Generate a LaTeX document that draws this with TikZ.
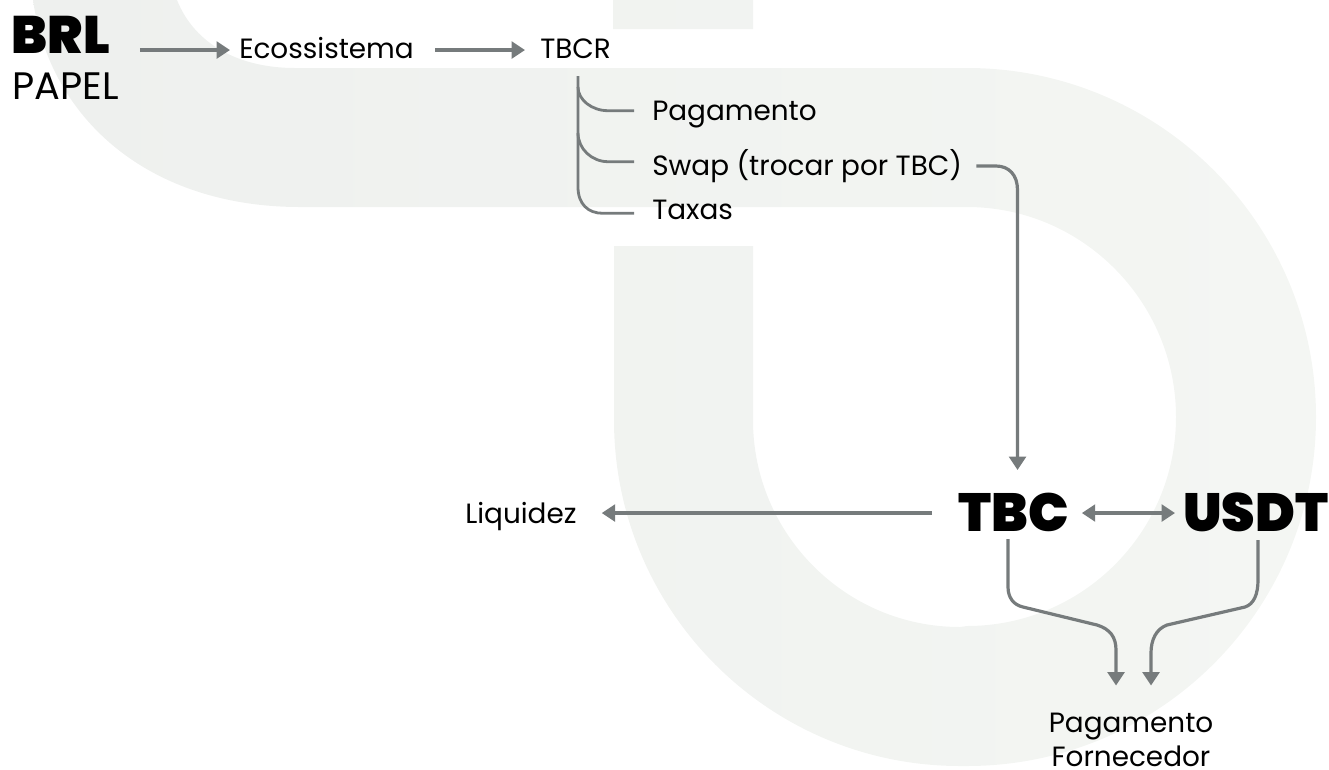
\documentclass[tikz,border=0pt]{standalone}
\usepackage{fontspec}
\setmainfont{Poppins}
\newfontfamily\blackfont{Poppins Black}
\usetikzlibrary{arrows.meta,calc}
\definecolor{bandl}{HTML}{EEF0EE}
\definecolor{bandr}{HTML}{F4F6F3}
\definecolor{linec}{HTML}{767B7C}
\tikzset{
  px/.style={x=0.75pt,y=-0.75pt},
  lbl/.style={inner sep=0pt,anchor=base west,font=\fontsize{20.9}{25.5}\selectfont,text=black},
  big/.style={inner sep=0pt,anchor=base west,font=\blackfont\fontsize{40.3}{40}\selectfont,text=black},
  plain/.style={draw=linec,line width=2.1pt},
  wire/.style={draw=linec,line width=2.4pt,-{Triangle[length=10pt,width=12.5pt]}},
  biwire/.style={draw=linec,line width=2.4pt,{Triangle[length=10pt,width=12.5pt]}-{Triangle[length=10pt,width=12.5pt]}},
}
\begin{document}
\begin{tikzpicture}[px]
\useasboundingbox (0,0) rectangle (1329,769);
\shade[left color=bandl,right color=bandr]
  (33,0) .. controls (50,120) and (150,207) .. (300,207) -- (967,207)
  .. controls (1082.4,207) and (1176,301.6) .. (1176,417)
  .. controls (1176,532.4) and (1082.4,626) .. (967,626) -- (960,627)
  .. controls (845.7,627) and (753,534.3) .. (753,420) -- (753,246) -- (614,246) -- (614,420)
  .. controls (614,611) and (769,766) .. (960,766) -- (967,766)
  .. controls (1159.7,766) and (1316,609.7) .. (1316,417)
  .. controls (1316,224.3) and (1159.7,68) .. (967,68) -- (295,68)
  .. controls (240,68) and (195,45) .. (177,0) -- cycle
  (613,0) -- (753,0) -- (753,29) -- (613,29) -- cycle;
\node[lbl] (eco) at (239,58) {Ecossistema};
\node[lbl] (tbcr) at (540,58) {TBCR};
\node[big,font=\blackfont\fontsize{39.5}{40}\selectfont] (brl) at (11.5,53) {BRL};
\node[lbl,font=\fontsize{28.7}{32}\selectfont] (papel) at (12,99.5) {PAPEL};
\node[lbl] (pag) at (652,120.7) {Pagamento};
\node[lbl] (swap) at (652,175) {Swap (trocar por TBC)};
\node[lbl] (tax) at (652,219.5) {Taxas};
\node[big] (tbc) at (958,531) {TBC};
\node[big] (usdt) at (1183,531) {USDT};
\node[lbl] (liq) at (465,523) {Liquidez};
\node[lbl,align=center,anchor=north] (forn) at (1131,712.5) {Pagamento\\Fornecedor};
\draw[wire] ($(brl.base east)+(30,-3)$) -- ($(eco.base west)+(-9,-8)$);
\draw[wire] ($(eco.base east)+(21,-8)$) -- ($(tbcr.base west)+(-15,-8)$);
\coordinate (top) at ($(tbcr.base west)+(38,18)$);
\draw[plain] (top) -- (578,187) .. controls (578,204) and (588,213.3) .. (603,213.3) -- ($(tax.base west)+(-18,-6.2)$);
\draw[plain] (578,87) .. controls (578,100) and (592,110.7) .. (608,110.7) -- ($(pag.base west)+(-18,-10)$);
\draw[plain] (578,133) .. controls (578,149) and (592,161.7) .. (608,161.7) -- ($(swap.base west)+(-18,-13.3)$);
\draw[wire] ($(swap.base east)+(14,-9)$) -- (996,166) .. controls (1009,166) and (1017.5,175) .. (1017.5,190) -- ($(tbc.base west)+(59.5,-61)$);
\draw[wire] ($(tbc.base west)+(-26,-18)$) -- ($(liq.base east)+(25,-10)$);
\draw[biwire] ($(tbc.base east)+(13,-18)$) -- ($(usdt.base west)+(-8,-18)$);
\draw[wire] ($(tbc.base west)+(50,8)$) -- (1008,587) .. controls (1008,598) and (1014,605) .. (1023,607) -- (1097,625) .. controls (1110,629) and (1116,637) .. (1116,650) -- ($(forn.north)+(-15,-27)$);
\draw[wire] ($(usdt.base west)+(75,9)$) -- (1258,580) .. controls (1258,594) and (1254,604) .. (1245,607) -- (1167,625) .. controls (1156,629) and (1151,640) .. (1151,653) -- ($(forn.north)+(20,-27)$);
\end{tikzpicture}
\end{document}
